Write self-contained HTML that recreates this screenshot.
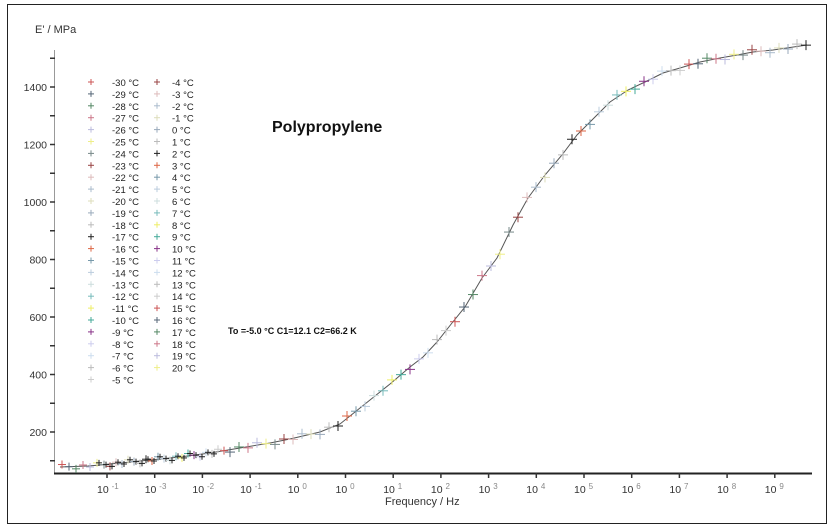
<!DOCTYPE html>
<html><head><meta charset="utf-8"><style>
body{margin:0;background:#fff;width:829px;height:529px;overflow:hidden}
svg{display:block;font-family:"Liberation Sans",sans-serif}
</style></head><body>
<svg id="s" width="829" height="529" xmlns="http://www.w3.org/2000/svg">
<rect x="7.5" y="4.5" width="819" height="519" fill="#fff" stroke="#222" stroke-width="1"/>
<line x1="54.5" y1="50" x2="54.5" y2="474" stroke="#999" stroke-width="1"/>
<line x1="54" y1="473.5" x2="812" y2="473.5" stroke="#222" stroke-width="2"/>
<text x="35" y="33" font-size="11" fill="#333">E' / MPa</text>
<text x="272" y="132" font-size="16" font-weight="bold" fill="#111">Polypropylene</text>
<text x="228" y="334" font-size="9" font-weight="bold" fill="#111">To =-5.0 °C   C1=12.1   C2=66.2 K</text>
<text x="385" y="505" font-size="11" fill="#333">Frequency / Hz</text>
<g id="ax" font-size="10.5" fill="#333"></g>
<g id="leg" font-size="9.5" fill="#222"></g>
<g id="dat"></g>
</svg>
<script>
const NS="http://www.w3.org/2000/svg";
function el(p,t,a,txt){const e=document.createElementNS(NS,t);for(const k in a)e.setAttribute(k,a[k]);if(txt!==undefined)e.textContent=txt;p.appendChild(e);return e;}
const ax=document.getElementById('ax');
for(let v=100;v<=1500;v+=100){const y=87+(1400-v)/200*57.5;el(ax,'line',{x1:50,x2:55,y1:y,y2:y,stroke:'#333','stroke-width':1.5});
 if(v%200==0&&v>=200)el(ax,'text',{x:47,y:y+4,'text-anchor':'end'},String(v));}
const labs=["-1","-3","-2","-1","0","0","1","2","3","4","5","6","7","8","9"];
labs.forEach((l,i)=>{const x=107+47.7*i;el(ax,'line',{x1:x,x2:x,y1:473,y2:478,stroke:'#333','stroke-width':1.5});
 const t=el(ax,'text',{x:x-10,y:493});t.textContent="10 ";el(t,'tspan',{dy:-4,'font-size':8,fill:'#888'},l);});
const cols=["#c55","#567","#586","#c78","#bbd","#ee8","#788","#944","#dbb","#abc","#ddb","#9ab","#bbb","#222","#d64","#79a","#bcd","#cdd","#7bb","#ee6","#4a9","#838","#cce","#cde","#bbb","#ccc"];
const leg=document.getElementById('leg');
function cross(g,x,y,c,s){el(g,'line',{x1:x-s,x2:x+s,y1:y,y2:y,stroke:c,'stroke-width':1});el(g,'line',{x1:x,x2:x,y1:y-s,y2:y+s,stroke:c,'stroke-width':1});}
for(let i=0;i<26;i++){const y=82+i*11.9;cross(leg,91,y,cols[i],3);el(leg,'text',{x:112,y:y+4},(-30+i)+" °C");}
for(let i=0;i<25;i++){const y=82+i*11.9;cross(leg,157,y,cols[(i+7)%26],3);el(leg,'text',{x:172,y:y+4},(-4+i)+" °C");}
const P=[[60,467],[88,466],[100,465],[120,463],[150,460],[180,457],[210,453],[240,448],[270,443],[290,439],[320,432],[340,424],[355,412],[370,400],[390,384],[410,367],[423,357],[437,342],[452,323],[465,307],[482,278],[497,258],[513,225],[528,198],[545,175],[562,155],[577,135],[595,117],[610,102],[628,90],[645,82],[663,73],[680,68],[700,62],[720,58],[737,55],[753,52],[773,50],[807,45]];
function f(x){for(let i=0;i<P.length-1;i++){if(x<=P[i+1][0]){const t=(x-P[i][0])/(P[i+1][0]-P[i][0]);return P[i][1]+t*(P[i+1][1]-P[i][1]);}}return P[P.length-1][1];}
const d=document.getElementById('dat');
el(d,'polyline',{points:P.map(p=>p.join(',')).join(' '),fill:'none',stroke:'#555','stroke-width':1});
let k=0;
for(let x=62;x<=806;x+=(x<100?7:x<230?6:9)){const y=f(x)+((k*7)%5-2)*1.2;cross(d,x,y,cols[k%26],x<230?4:5);if(x>95&&x<215)cross(d,x+2,y,'#222',3);k++;}
</script>
</body></html>
